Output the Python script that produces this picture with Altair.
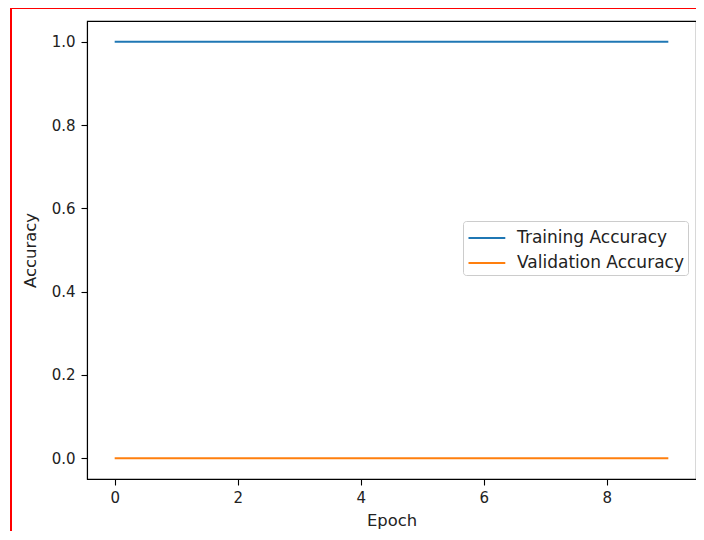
import altair as alt
import pandas as pd

epochs = [0, 1, 2, 3, 4, 5, 6, 7, 8, 9]
training_accuracy = [1.0, 1.0, 1.0, 1.0, 1.0, 1.0, 1.0, 1.0, 1.0, 1.0]
validation_accuracy = [0.0, 0.0, 0.0, 0.0, 0.0, 0.0, 0.0, 0.0, 0.0, 0.0]
series_names = ["Training Accuracy", "Validation Accuracy"]
series_colors = ["#1f77b4", "#ff7f0e"]
x_ticks = [0, 2, 4, 6, 8]
y_ticks = [0.0, 0.2, 0.4, 0.6, 0.8, 1.0]

rows = []
for e, t, v in zip(epochs, training_accuracy, validation_accuracy):
    rows.append({"Epoch": e, "Accuracy": t, "Series": series_names[0]})
    rows.append({"Epoch": e, "Accuracy": v, "Series": series_names[1]})
df = pd.DataFrame(rows)

FONT = "DejaVu Sans"

lines = alt.Chart(df).mark_line(strokeWidth=2.1).encode(
    x=alt.X("Epoch:Q",
            scale=alt.Scale(domain=[-0.45, 9.45], nice=False, zero=False),
            axis=alt.Axis(values=x_ticks, format="d", title="Epoch",
                          labelPadding=5, titlePadding=7)),
    y=alt.Y("Accuracy:Q",
            scale=alt.Scale(domain=[-0.05, 1.05], nice=False, zero=False),
            axis=alt.Axis(values=y_ticks, format=".1f", title="Accuracy",
                          labelPadding=6, titlePadding=13)),
    color=alt.Color("Series:N",
                    scale=alt.Scale(domain=series_names, range=series_colors),
                    legend=alt.Legend(title=None, orient="none",
                                      legendX=376, legendY=200,
                                      symbolType="M-1,0H2.2", symbolSize=529,
                                      symbolStrokeWidth=2.1,
                                      labelFontSize=17, labelFont=FONT,
                                      labelColor="#222222", labelLimit=400,
                                      labelOffset=24, rowPadding=4,
                                      padding=4,
                                      strokeColor="#cccccc", cornerRadius=3,
                                      fillColor="white")),
)

frame = alt.Chart(df).mark_rect(fill=None, stroke="red", strokeWidth=2,
                                clip=False).encode(
    x=alt.value(-76), x2=alt.value(700),
    y=alt.value(-13), y2=alt.value(600),
)

chart = alt.layer(lines, frame).properties(
    width=609, height=458,
    padding={"left": 79, "top": 13, "right": 0, "bottom": 52},
    autosize=alt.AutoSizeParams(type="none"),
    background="white",
).configure_view(
    stroke="black", strokeWidth=1.1,
).configure_axis(
    grid=False,
    domainColor="black", domainWidth=1.1,
    tickColor="black", tickSize=6, tickWidth=1.1,
    labelFont=FONT, labelFontSize=15, labelColor="#222222",
    titleFont=FONT, titleFontSize=16.4, titleFontWeight="normal",
    titleColor="#222222",
).configure_axisY(labelAngle=0)

chart.save("out.html", embed_options={"renderer": "svg", "actions": False})
